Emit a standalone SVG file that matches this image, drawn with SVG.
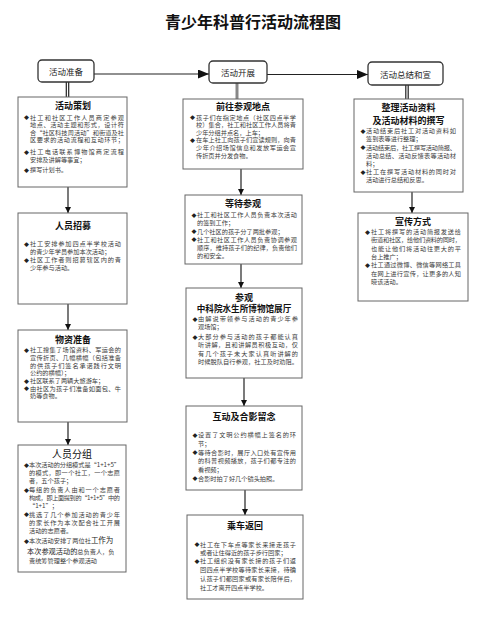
<svg xmlns="http://www.w3.org/2000/svg" width="500" height="626" viewBox="0 0 500 626">
<defs>
<style>
text{font-family:"Noto Sans CJK SC","Noto Sans",sans-serif;}
.ttl{font-size:16px;font-weight:bold;fill:#111;text-anchor:middle;}
.hd{fill:#fff;stroke:#333;stroke-width:1.3;}
.hdt{font-size:8.5px;fill:#222;text-anchor:middle;}
.bx{fill:#fff;stroke:#666;stroke-width:1;}
.bt{font-size:9px;font-weight:bold;fill:#111;text-anchor:middle;}
.tx{font-size:6.2px;fill:#3a3a3a;}
.bl{font-size:5px;fill:#222;}
.big{font-size:7.5px;fill:#222;}
.cn{fill:none;stroke:#222;stroke-width:1.2;}
</style>
<marker id="ab" markerUnits="userSpaceOnUse" markerWidth="12" markerHeight="10" refX="11" refY="4.5" orient="auto"><path d="M0,0 L11,4.5 L0,9 z" fill="#111"/></marker>
<marker id="as" markerUnits="userSpaceOnUse" markerWidth="7" markerHeight="7" refX="6" refY="3" orient="auto"><path d="M0,0 L6,3 L0,6 z" fill="#111"/></marker>
</defs>
<rect width="500" height="626" fill="#fff"/>
<text class="ttl" x="253" y="28">青少年科普行活动流程图</text>

<g id="connectors">
<path class="cn" d="M94,74 H209" marker-end="url(#ab)"/>
<path class="cn" d="M267,74.5 H368" marker-end="url(#ab)"/>
<path class="cn" d="M66.3,82 V97 M68.7,82 V97" stroke-width="0.9"/>
<path d="M237,83 V99" stroke="#888" stroke-width="3" fill="none"/>
<path class="cn" d="M405.8,85 V99 M408.2,85 V99" stroke-width="0.9"/>
<path class="cn" d="M68,187 V213" marker-end="url(#as)"/>
<path class="cn" d="M68,304 V330" marker-end="url(#as)"/>
<path class="cn" d="M68,422 V445" marker-end="url(#as)"/>
<path class="cn" d="M241,169 V195" marker-end="url(#as)"/>
<path class="cn" d="M241,264 V288" marker-end="url(#as)"/>
<path class="cn" d="M244,378 V406" marker-end="url(#as)"/>
<path class="cn" d="M245,490 V515" stroke="#555" stroke-width="1.6" marker-end="url(#as)"/>
<path class="cn" d="M412,192 V213" marker-end="url(#as)"/>
</g>

<g id="h1"><rect class="hd" x="38" y="60" width="56" height="22" rx="4"/><text class="hdt" x="66" y="74.5">活动准备</text></g>
<g id="h2"><rect class="hd" x="209" y="61" width="58" height="22" rx="4"/><text class="hdt" x="238" y="75.5">活动开展</text></g>
<g id="h3"><rect class="hd" x="368" y="62" width="75" height="23" rx="4"/><text class="hdt" x="405.5" y="77.5">活动总结和宣</text></g>

<g id="n1">
<rect class="bx" x="18" y="97" width="109" height="90"/>
<text class="bt" x="73" y="109.3">活动策划</text>
<text class="bl" x="24" y="119.2">◆</text>
<text class="tx" x="30" y="119.5" textLength="94">社工和社区工作人员商定参观</text>
<text class="tx" x="30" y="127.1" textLength="94">地点、活动主题和形式，设计符</text>
<text class="tx" x="30" y="134.7" textLength="94">合“社区科技周活动”和街道及社</text>
<text class="tx" x="30" y="142.3" textLength="94">区要求的活动流程和互动环节；</text>
<text class="bl" x="24" y="153.9">◆</text>
<text class="tx" x="30" y="154.2" textLength="94">社工电话联系博物馆商定流程</text>
<text class="tx" x="30" y="162">安排及讲解等事宜；</text>
<text class="bl" x="24" y="171.7">◆</text>
<text class="tx" x="30" y="172">撰写计划书。</text>
</g>

<g id="n2">
<rect class="bx" x="18" y="213" width="109" height="91"/>
<text class="bt" x="73" y="228.5">人员招募</text>
<text class="bl" x="24" y="245.7">◆</text>
<text class="tx" x="30" y="246" textLength="91">社工安排参加四点半学校活动</text>
<text class="tx" x="30" y="253.7">的青少年学员参加本次活动；</text>
<text class="bl" x="24" y="261.7">◆</text>
<text class="tx" x="30" y="262" textLength="91">社区工作者则招募辖区内的青</text>
<text class="tx" x="30" y="269.7">少年参与活动。</text>
</g>

<g id="n3">
<rect class="bx" x="18" y="330" width="109" height="92"/>
<text class="bt" x="73" y="343.2">物资准备</text>
<text class="bl" x="24" y="352">◆</text>
<text class="tx" x="30" y="352.3" textLength="91">社工搜集了场馆资料、军运会的</text>
<text class="tx" x="30" y="359.9" textLength="91">宣传折页、几幅横幅（包括准备</text>
<text class="tx" x="30" y="367.5" textLength="91">的供孩子们签名承诺践行文明</text>
<text class="tx" x="30" y="375.1">公约的横幅）；</text>
<text class="bl" x="24" y="382.5">◆</text>
<text class="tx" x="30" y="382.8">社区联系了两辆大旅游车；</text>
<text class="bl" x="24" y="390.2">◆</text>
<text class="tx" x="30" y="390.5" textLength="91">由社区为孩子们准备如面包、牛</text>
<text class="tx" x="30" y="398.2">奶等食物。</text>
</g>

<g id="n4">
<rect class="bx" x="18" y="445" width="108" height="127"/>
<text class="bt" x="72" y="458" style="font-weight:normal;font-size:10px">人员分组</text>
<text class="bl" x="24" y="466.7">◆</text>
<text class="tx" x="29" y="467" textLength="91">本次活动的分组模式是“1+1+5”</text>
<text class="tx" x="29" y="475" textLength="91">的模式，即一个社工，一个志愿</text>
<text class="tx" x="29" y="483.3">者，五个孩子；</text>
<text class="bl" x="24" y="491.7">◆</text>
<text class="tx" x="29" y="492" textLength="91">每组的负责人由和一个志愿者</text>
<text class="tx" x="29" y="500" textLength="91">构成，即上面提到的“1+1+5”中的</text>
<text class="tx" x="29" y="508">“1+1”；</text>
<text class="bl" x="24" y="516.2">◆</text>
<text class="tx" x="29" y="516.5" textLength="91">挑选了几个参加活动的青少年</text>
<text class="tx" x="29" y="524.5" textLength="91">的家长作为本次配合社工开展</text>
<text class="tx" x="29" y="532.5">活动的志愿者。</text>
<text class="bl" x="24" y="542.6">◆</text>
<text class="tx" x="29" y="542.9">本次活动安排了两位社<tspan class="big">工作为</tspan></text>
<text class="tx" x="27" y="553.6"><tspan style="font-size:7.2px;fill:#222">本次参观活动的</tspan>总负责人，负</text>
<text class="tx" x="29" y="563">责统筹管理整个参观活动</text>
</g>

<g id="m1">
<rect class="bx" x="183" y="99" width="120" height="70"/>
<text class="bt" x="243" y="109.8">前往参观地点</text>
<text class="bl" x="190" y="119.2">◆</text>
<text class="tx" x="196" y="119.5" textLength="100">孩子们在指定地点（社区四点半学</text>
<text class="tx" x="196" y="127.1" textLength="100">校）集合，社工和社区工作人员将青</text>
<text class="tx" x="196" y="134.7">少年分组并点名，上车；</text>
<text class="bl" x="190" y="142">◆</text>
<text class="tx" x="196" y="142.3" textLength="100">在车上社工向孩子们宣读规则，向青</text>
<text class="tx" x="196" y="149.9" textLength="100">少年介绍场馆信息和发放军运会宣</text>
<text class="tx" x="196" y="157.5">传折页并分发食物。</text>
</g>

<g id="m2">
<rect class="bx" x="185" y="195" width="117" height="69"/>
<text class="bt" x="243" y="207.3">等待参观</text>
<text class="bl" x="191.5" y="216.7">◆</text>
<text class="tx" x="197" y="217" textLength="100">社工和社区工作人员负责本次活动</text>
<text class="tx" x="197" y="224.8">的签到工作；</text>
<text class="bl" x="191.5" y="233.3">◆</text>
<text class="tx" x="197" y="233.6">几个社区的孩子分了两批参观；</text>
<text class="bl" x="191.5" y="241.3">◆</text>
<text class="tx" x="197" y="241.6" textLength="100">社工和社区工作人员负责协调参观</text>
<text class="tx" x="197" y="249.6" textLength="100">顺序，维持孩子们的纪律，负责他们</text>
<text class="tx" x="197" y="257.6">的和安全。</text>
</g>

<g id="m3">
<rect class="bx" x="186" y="288" width="116" height="90"/>
<text class="bt" x="244" y="300.5">参观</text>
<text class="bt" x="244" y="312" style="font-size:8.6px">中科院水生所博物馆展厅</text>
<text class="bl" x="192.5" y="320.7">◆</text>
<text class="tx" x="198" y="321" textLength="100">由解说带领参与活动的青少年参</text>
<text class="tx" x="198" y="329">观场馆；</text>
<text class="bl" x="192.5" y="338.7">◆</text>
<text class="tx" x="198" y="339" textLength="100">大部分参与活动的孩子都能认真</text>
<text class="tx" x="198" y="347.3" textLength="100">听讲解，且和讲解员积极互动，仅</text>
<text class="tx" x="198" y="355.6" textLength="100">有几个孩子未大家认真听讲解的</text>
<text class="tx" x="198" y="364" textLength="100">时候脱队自行参观，社工及时劝阻。</text>
</g>

<g id="m4">
<rect class="bx" x="186" y="406" width="116" height="84"/>
<text class="bt" x="244" y="419.5">互动及合影留念</text>
<text class="bl" x="192.5" y="437">◆</text>
<text class="tx" x="198" y="437.3" textLength="98">设置了文明公约横幅上签名的环</text>
<text class="tx" x="198" y="445.6">节；</text>
<text class="bl" x="192.5" y="454.3">◆</text>
<text class="tx" x="198" y="454.6" textLength="98">等待合影时，展厅入口处有宣传用</text>
<text class="tx" x="198" y="463.3" textLength="98">的科普视频播放，孩子们都专注的</text>
<text class="tx" x="198" y="471.6">看视频；</text>
<text class="bl" x="192.5" y="480.3">◆</text>
<text class="tx" x="198" y="480.6">合影时拍了好几个镜头拍照。</text>
</g>

<g id="m5">
<rect class="bx" x="187" y="515" width="116" height="84"/>
<text class="bt" x="245" y="528.5">乘车返回</text>
<text class="bl" x="194.5" y="546.3">◆</text>
<text class="tx" x="200" y="546.6" textLength="96">社工在下车点等家长来接走孩子</text>
<text class="tx" x="200" y="555">或者让住得近的孩子步行回家；</text>
<text class="bl" x="194.5" y="563">◆</text>
<text class="tx" x="200" y="563.3" textLength="96">社工组织没有家长接的孩子们返</text>
<text class="tx" x="200" y="572.3" textLength="96">回四点半学校等待家长来接，待确</text>
<text class="tx" x="200" y="581.3" textLength="96">认孩子们都回家或有家长陪伴后，</text>
<text class="tx" x="200" y="590">社工才离开四点半学校。</text>
</g>

<g id="r1">
<rect class="bx" x="354" y="99" width="109" height="93"/>
<text class="bt" x="408.5" y="110.5">整理活动资料</text>
<text class="bt" x="408.5" y="123.6">及活动材料的撰写</text>
<text class="bl" x="360.5" y="132.9">◆</text>
<text class="tx" x="366" y="133.2" textLength="90">活动结束后社工对活动资料如</text>
<text class="tx" x="366" y="141">签到表等进行整理；</text>
<text class="bl" x="360.5" y="149.3">◆</text>
<text class="tx" x="366" y="149.6" textLength="90">活动结束后，社工撰写活动简报、</text>
<text class="tx" x="366" y="157.6" textLength="90">活动总结、活动反馈表等活动材</text>
<text class="tx" x="366" y="165.6">料；</text>
<text class="bl" x="360.5" y="174">◆</text>
<text class="tx" x="366" y="174.3" textLength="90">社工在撰写活动材料的同时对</text>
<text class="tx" x="366" y="182.3">活动进行总结和反思。</text>
</g>

<g id="r2">
<rect class="bx" x="358" y="213" width="110" height="88"/>
<text class="bt" x="413" y="225">宣传方式</text>
<text class="bl" x="365" y="233.9">◆</text>
<text class="tx" x="371" y="234.2" textLength="90">社工将撰写的活动简报发送给</text>
<text class="tx" x="371" y="242.4" textLength="90">街道和社区，给他们资料的同时，</text>
<text class="tx" x="371" y="250.6" textLength="90">也能让他们将活动往更大的平</text>
<text class="tx" x="371" y="259">台上推广；</text>
<text class="bl" x="365" y="267">◆</text>
<text class="tx" x="371" y="267.3" textLength="90">社工通过微博、微信等网络工具</text>
<text class="tx" x="371" y="275.6" textLength="90">在网上进行宣传，让更多的人知</text>
<text class="tx" x="371" y="284">晓该活动。</text>
</g>
</svg>
